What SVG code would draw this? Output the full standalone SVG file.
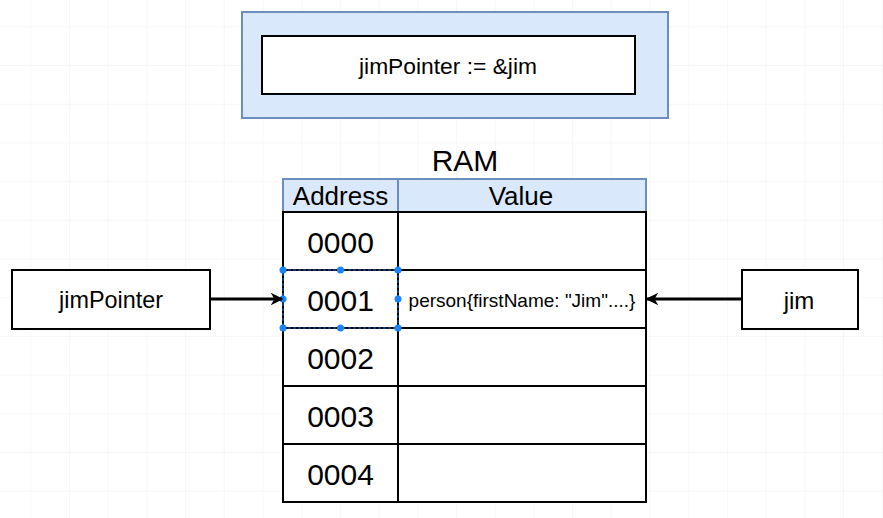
<svg xmlns="http://www.w3.org/2000/svg" width="883" height="518" viewBox="0 0 883 518">
<style>
text{font-family:"Liberation Sans",Arial,sans-serif;fill:#000;text-anchor:middle;dominant-baseline:central}
.box{fill:#fff;stroke:#000;stroke-width:2}
.hdr{fill:#dae8fc;stroke:#6c8ebf;stroke-width:2}
.cell{fill:#fff;stroke:#000;stroke-width:2}
.conn{stroke:#000;stroke-width:2.8;fill:none}
.sel{fill:none;stroke:#1a6fd8;stroke-width:1;stroke-dasharray:3 2}
.h{fill:#1a84ff}
.addr{font-size:30px}
</style>
<defs>
<pattern id="grid" x="30.3" y="26.3" width="38.7" height="38.7" patternUnits="userSpaceOnUse">
<path d="M0 0V38.7M0 0H38.7" stroke="#efefef" stroke-width="1" fill="none"/>
</pattern>
<marker id="arr" viewBox="0 0 10 10" refX="9" refY="5" markerWidth="4.5" markerHeight="4.5" orient="auto">
<path d="M0 0L10 5L0 10L3 5Z" fill="#000"/>
</marker>
</defs>
<rect width="883" height="518" fill="#fff"/>
<rect width="883" height="518" fill="url(#grid)"/>

<g id="code">
<rect x="242" y="12" width="426" height="106" class="hdr"/>
<rect x="262" y="36" width="373" height="58" class="box"/>
<text x="448" y="66" font-size="22.8">jimPointer := &amp;jim</text>
</g>

<g id="ram">
<text x="465" y="160" font-size="30">RAM</text>
<rect x="283" y="179" width="115" height="33" class="hdr"/>
<rect x="398" y="179" width="248" height="33" class="hdr"/>
<text x="340.5" y="196" font-size="26">Address</text>
<text x="521" y="196" font-size="26">Value</text>
<g id="row0">
<rect x="283" y="212" width="115" height="58" class="cell"/>
<rect x="398" y="212" width="248" height="58" class="cell"/>
<text x="340.5" y="242" class="addr">0000</text>
</g>
<g id="row1">
<rect x="283" y="270" width="115" height="58" class="cell"/>
<rect x="398" y="270" width="248" height="58" class="cell"/>
<text x="340.5" y="300" class="addr">0001</text>
<text x="522" y="300" font-size="19">person{firstName: "Jim"....}</text>
</g>
<g id="row2">
<rect x="283" y="328" width="115" height="58" class="cell"/>
<rect x="398" y="328" width="248" height="58" class="cell"/>
<text x="340.5" y="358" class="addr">0002</text>
</g>
<g id="row3">
<rect x="283" y="386" width="115" height="58" class="cell"/>
<rect x="398" y="386" width="248" height="58" class="cell"/>
<text x="340.5" y="416" class="addr">0003</text>
</g>
<g id="row4">
<rect x="283" y="444" width="115" height="58" class="cell"/>
<rect x="398" y="444" width="248" height="58" class="cell"/>
<text x="340.5" y="474" class="addr">0004</text>
</g>
<g id="selection">
<rect x="283" y="270" width="115" height="58" class="sel"/>
<circle cx="283" cy="270" r="3.5" class="h"/>
<circle cx="340.5" cy="270" r="3.5" class="h"/>
<circle cx="398" cy="270" r="3.5" class="h"/>
<circle cx="283" cy="299" r="3.5" class="h"/>
<circle cx="398" cy="299" r="3.5" class="h"/>
<circle cx="283" cy="328" r="3.5" class="h"/>
<circle cx="340.5" cy="328" r="3.5" class="h"/>
<circle cx="398" cy="328" r="3.5" class="h"/>
</g>
</g>

<g id="jimPointer">
<rect x="12" y="270" width="198" height="59" class="box"/>
<text x="111" y="300" font-size="23.4">jimPointer</text>
</g>

<g id="jim">
<rect x="742" y="270" width="116" height="59" class="box"/>
<text x="799" y="300" font-size="24">jim</text>
</g>

<g id="connectors">
<line x1="210" y1="299" x2="282" y2="299" class="conn" marker-end="url(#arr)"/>
<line x1="742" y1="299" x2="647" y2="299" class="conn" marker-end="url(#arr)"/>
</g>
</svg>
